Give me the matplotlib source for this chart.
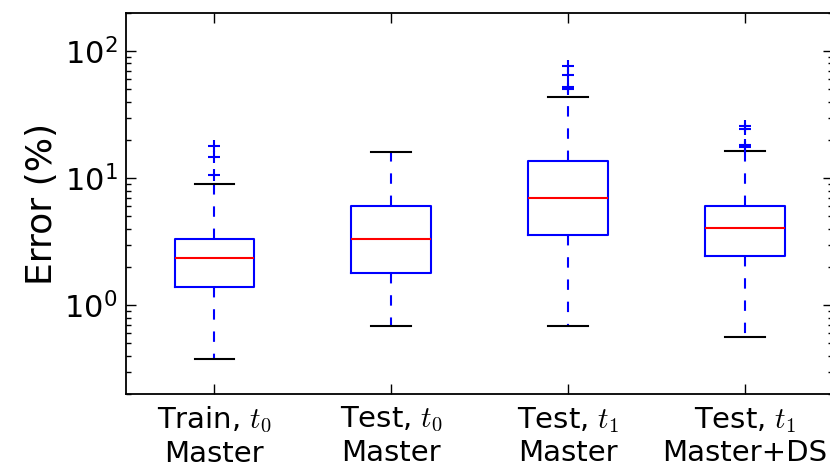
import matplotlib
matplotlib.use("Agg")
from matplotlib import pyplot as plt

# box statistics (error in %)
labels = ["Train, $t_0$\nMaster", "Test, $t_0$\nMaster",
          "Test, $t_1$\nMaster", "Test, $t_1$\nMaster+DS"]
whislo = [0.376, 0.684, 0.684, 0.563]
q1 = [1.39, 1.78, 3.56, 2.44]
med = [2.37, 3.35, 6.96, 4.02]
q3 = [3.31, 6.05, 13.6, 6.05]
whishi = [9.08, 16.1, 43.2, 16.5]
fliers = [[10.6, 14.7, 17.9], [], [50.0, 52.4, 64.7, 76.2], [17.6, 18.4, 24.6, 25.9]]

plt.rcParams['mathtext.fontset'] = 'cm'
plt.rcParams['lines.scale_dashes'] = False

stats = []
for i in range(len(labels)):
    stats.append(dict(label=labels[i], whislo=whislo[i], q1=q1[i], med=med[i],
                      q3=q3[i], whishi=whishi[i], fliers=fliers[i]))

fig = plt.figure(figsize=(8.3, 4.71), dpi=100)
ax = fig.add_axes([0.1518, 0.1635, 0.852, 0.809])

ax.bxp(stats, widths=0.45,
       boxprops=dict(color='b', linewidth=1.5),
       medianprops=dict(color='r', linewidth=1.5),
       whiskerprops=dict(color='b', linewidth=1.5, linestyle=(0, (7.5, 8.5))),
       capprops=dict(color='k', linewidth=1.5),
       flierprops=dict(marker='+', markeredgecolor='b', markersize=8, markeredgewidth=1.5))

ax.set_yscale('log')
ax.set_ylim(0.2, 200)
ax.set_xlim(0.5, 4.5)
ax.set_ylabel('Error (%)', fontsize=26, labelpad=4)

ax.tick_params(which='both', direction='in', top=True, right=True, labelsize=21)
ax.tick_params(axis='y', labelsize=22)
ax.tick_params(which='major', length=7, width=1)
ax.tick_params(which='minor', length=3.5, width=1)
ax.tick_params(axis='x', pad=8)
ax.tick_params(axis='y', pad=6)
for s in ax.spines.values():
    s.set_linewidth(1.3)

fig.savefig('out.png', dpi=100)
